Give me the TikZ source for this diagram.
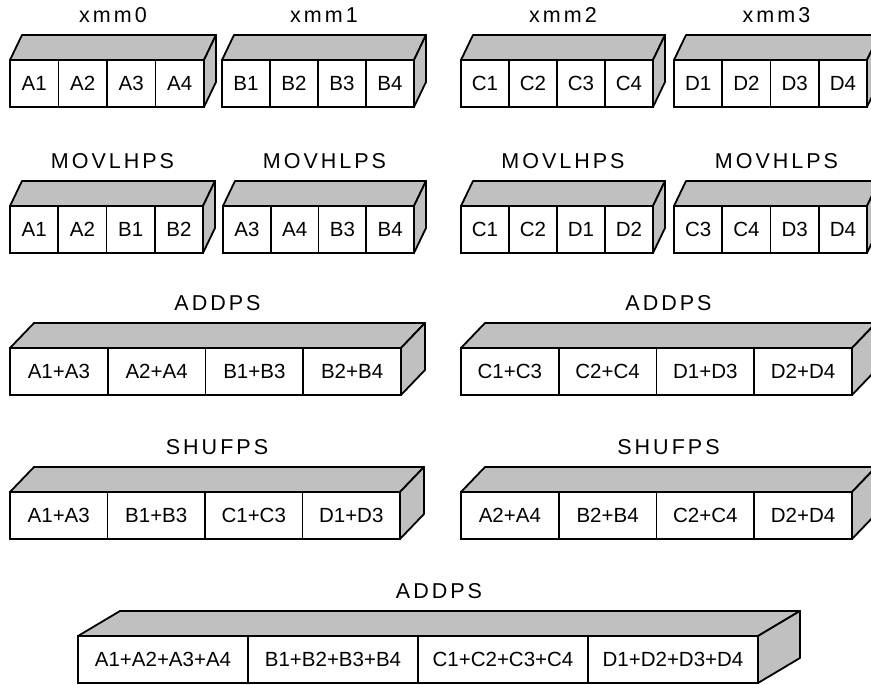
\documentclass[tikz,border=0pt]{standalone}
\usepackage{fontspec}
\setmainfont{Liberation Sans}
\newfontfamily\labelfont[LetterSpace=14]{Liberation Sans}
\definecolor{facegray}{RGB}{192,192,192}
\tikzstyle{cell} = [rectangle, draw=black, line width=1.8pt, minimum height=47pt, inner sep=0pt, outer sep=0pt, anchor=north west, font=\fontsize{20.5}{24}\selectfont]
\tikzstyle{face} = [draw=black, fill=facegray, line width=1.8pt, line join=round]
\tikzstyle{regname} = [anchor=base, font=\labelfont\fontsize{21.5}{25}\selectfont]
% #1 name, #2 left x, #3 top y, #4 cell width, #5 depth, #6 title, #7 cells
\newcommand{\regbox}[7]{
	\foreach \t [count=\i] in {#7}
		\node[cell, minimum width=#4pt] (#1\i) at ({#2+(\i-1)*#4}, #3) {\t};
	\draw[face] (#11.north west) -- ++(#5,25) -- ([shift={(#5,25)}]#14.north east) -- (#14.north east) -- cycle;
	\draw[face] (#14.north east) -- ++(#5,25) -- ([shift={(#5,25)}]#14.south east) -- (#14.south east) -- cycle;
	\node[regname] (#1name) at ({#2+2*#4+#5/2}, #3+37) {#6};
}

\begin{document}
\begin{tikzpicture}[x=1pt, y=1pt]
	\useasboundingbox (0,0) rectangle (871,685);
	\regbox{xa}{10}{625}{48.5}{12}{xmm0}{A1,A2,A3,A4}
	\regbox{xb}{222}{625}{48}{12}{xmm1}{B1,B2,B3,B4}
	\regbox{xc}{461}{625}{48}{12}{xmm2}{C1,C2,C3,C4}
	\regbox{xd}{674}{625}{48.25}{12}{xmm3}{D1,D2,D3,D4}
	\regbox{ml}{10}{479}{48.25}{12}{MOVLHPS}{A1,A2,B1,B2}
	\regbox{mh}{223}{479}{47.75}{12}{MOVHLPS}{A3,A4,B3,B4}
	\regbox{mlb}{461}{479}{48}{12}{MOVLHPS}{C1,C2,D1,D2}
	\regbox{mhb}{674}{479}{48.25}{12}{MOVHLPS}{C3,C4,D3,D4}
	\regbox{ad}{10}{337}{97.75}{24}{ADDPS}{A1+A3,A2+A4,B1+B3,B2+B4}
	\regbox{adb}{461}{337}{97.75}{24}{ADDPS}{C1+C3,C2+C4,D1+D3,D2+D4}
	\regbox{sh}{10}{193}{97.5}{24}{SHUFPS}{A1+A3,B1+B3,C1+C3,D1+D3}
	\regbox{shb}{461}{193}{97.75}{24}{SHUFPS}{A2+A4,B2+B4,C2+C4,D2+D4}
	\regbox{sum}{78}{49}{170}{42}{ADDPS}{A1+A2+A3+A4,B1+B2+B3+B4,C1+C2+C3+C4,D1+D2+D3+D4}
\end{tikzpicture}
\end{document}
